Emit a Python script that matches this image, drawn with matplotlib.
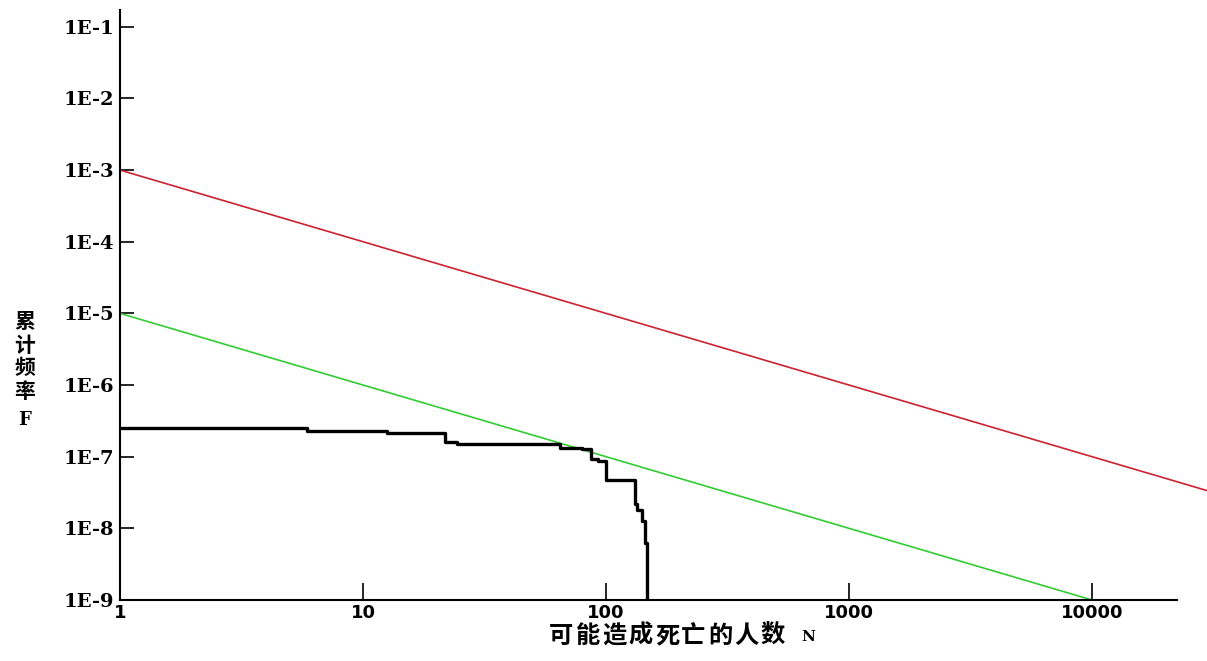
import numpy as np
import matplotlib
matplotlib.use("Agg")
import matplotlib.pyplot as plt
from matplotlib.ticker import FixedLocator, FuncFormatter, NullLocator

# F-N data (steps-post)
n_vals = [1, 5.9, 12.6, 21.7, 24.4, 64.7, 79.7, 86.8, 92.7, 100, 131, 134.7, 140.7, 144, 147.5, 147.5]
f_vals = [2.48e-7, 2.3e-7, 2.14e-7, 1.58e-7, 1.48e-7, 1.34e-7, 1.29e-7, 9.4e-8, 8.7e-8,
          4.7e-8, 2.2e-8, 1.8e-8, 1.27e-8, 6.3e-9, 1e-10, 1e-10]

# criterion lines F = C / N
upper_n = [1, 29700]
upper_c = 1e-3
lower_n = [1, 10000]
lower_c = 1e-5

y_ticks = [1e-1, 1e-2, 1e-3, 1e-4, 1e-5, 1e-6, 1e-7, 1e-8, 1e-9]
x_ticks = [1, 10, 100, 1000, 10000]

ylabel_chars = ["累", "计", "频", "率", "F"]
xlabel_chars = ["可", "能", "造", "成", "死", "亡", "的", "人", "数"]
xlabel_tail = "N"

cjk = ["Noto Sans CJK SC", "DejaVu Sans"]

fig = plt.figure(figsize=(12.07, 6.61), dpi=100)
W, H = 1207, 661
ax = fig.add_axes([120 / W, 61 / H, (W - 120) / W, 590 / H])

ax.plot(upper_n, [upper_c / n for n in upper_n], color="#cc2233", lw=1.2)
ax.plot(lower_n, [lower_c / n for n in lower_n], color="#33cc33", lw=1.2)
ax.plot(n_vals, f_vals, color="black", lw=2.4, drawstyle="steps-post")

ax.set_xscale("log")
ax.set_yscale("log")
ax.set_xlim(1, 10 ** 4.473)
ax.set_ylim(1e-9, 10 ** -0.766)

for s in ["top", "right"]:
    ax.spines[s].set_visible(False)
ax.spines["bottom"].set_bounds(1, 10 ** 4.349)
ax.spines["left"].set_linewidth(1.5)
ax.spines["bottom"].set_linewidth(1.5)

ax.xaxis.set_major_locator(FixedLocator(x_ticks))
ax.xaxis.set_minor_locator(NullLocator())
ax.yaxis.set_major_locator(FixedLocator(y_ticks))
ax.yaxis.set_minor_locator(NullLocator())
ax.xaxis.set_major_formatter(FuncFormatter(lambda v, p: "%d" % round(v)))
ax.yaxis.set_major_formatter(FuncFormatter(lambda v, p: "1E%d" % round(np.log10(v))))

ax.tick_params(axis="y", direction="in", length=10, width=1.2, pad=4)
ax.tick_params(axis="x", direction="in", length=12, width=1.2, pad=3)
for lab in ax.get_yticklabels():
    lab.set_fontfamily("DejaVu Serif")
    lab.set_fontweight("heavy")
    lab.set_fontsize(14)
for lab in ax.get_xticklabels():
    lab.set_fontfamily("DejaVu Sans")
    lab.set_fontweight("bold")
    lab.set_fontsize(13)

# y label: stacked characters
for i, ch in enumerate(ylabel_chars):
    yc = 322 + 23 * i + (6 if ch == "F" else 0)
    fig.text(25 / W, 1 - yc / H, ch, ha="center", va="center",
             fontsize=13 if ch == "F" else 15, fontweight="bold",
             family=["DejaVu Serif"] if ch == "F" else cjk)

# x label: spaced characters
for i, ch in enumerate(xlabel_chars):
    fig.text((561 + 26.5 * i) / W, 1 - 636 / H, ch, ha="center", va="center",
             fontsize=17.5, fontweight="bold", family=cjk)
fig.text(808 / W, 1 - 637 / H, xlabel_tail, ha="center", va="center",
         fontsize=11, fontweight="bold", family=["DejaVu Serif"])

fig.savefig("out.png", dpi=100)
